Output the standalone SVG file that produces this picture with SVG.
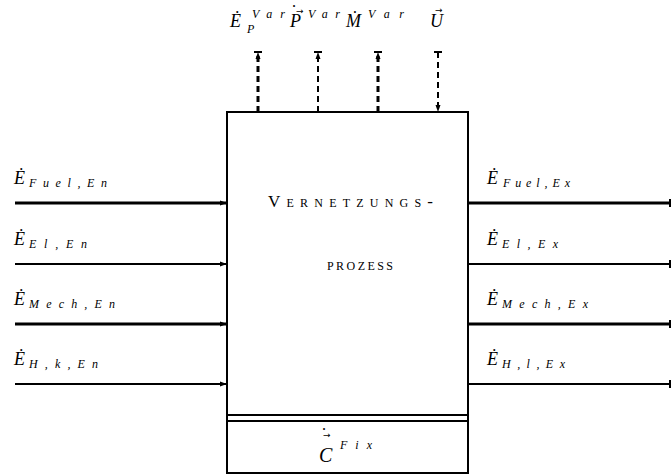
<svg xmlns="http://www.w3.org/2000/svg" width="671" height="475" viewBox="0 0 671 475">
<style>
.m{font-family:"Liberation Serif","DejaVu Serif",serif;font-style:italic;fill:#000}
.b{font-size:18px}
.s{font-size:12px}
.sc{font-family:"Liberation Serif","DejaVu Serif",serif;font-variant:small-caps;font-size:17px;fill:#000}
.ac{font-family:"DejaVu Sans","Liberation Sans",sans-serif;fill:#000}
.dt{font-family:"Liberation Serif","DejaVu Serif",serif;font-size:18px;fill:#000}
.thk{stroke:#000;stroke-width:3;fill:none}
.thn{stroke:#000;stroke-width:2;fill:none}
.dash{stroke-dasharray:6,4}
</style>
<defs>
<marker id="ah" markerWidth="8" markerHeight="6" refX="7" refY="3" orient="auto" markerUnits="userSpaceOnUse"><path d="M0,0.5 L7,3 L0,5.5 Z" fill="#000"/></marker>
<marker id="bar" markerWidth="2" markerHeight="8" refX="1" refY="4" orient="auto" markerUnits="userSpaceOnUse"><rect x="0" y="0" width="2" height="8" fill="#000"/></marker>
</defs>
<g id="prozess">
<rect x="227" y="112" width="241" height="361" fill="none" stroke="#000" stroke-width="2"/>
<line x1="227" y1="415" x2="468" y2="415" stroke="#000" stroke-width="2"/>
<line x1="227" y1="421" x2="468" y2="421" stroke="#000" stroke-width="2"/>
<text class="sc" x="268" y="207" textLength="165" lengthAdjust="spacing">Vernetzungs-</text>
<text class="sc" x="327" y="270" textLength="66" lengthAdjust="spacing">prozess</text>
<text class="m" style="font-size:20px" x="319" y="462">C</text>
<text class="ac" style="font-size:9px" x="323" y="438">→</text>
<text class="dt" x="321" y="441">˙</text>
<text class="m s" x="340" y="449" textLength="32" lengthAdjust="spacing">Fix</text>
</g>
<g id="connectors">
<line class="thk" x1="15" y1="203" x2="227" y2="203" marker-end="url(#ah)"/>
<line class="thn" x1="15" y1="264" x2="227" y2="264" marker-end="url(#ah)"/>
<line class="thk" x1="15" y1="324" x2="227" y2="324" marker-end="url(#ah)"/>
<line class="thn" x1="15" y1="384" x2="227" y2="384" marker-end="url(#ah)"/>
<line class="thk" x1="468" y1="203" x2="670" y2="203" marker-end="url(#bar)"/>
<line class="thn" x1="468" y1="264" x2="670" y2="264" marker-end="url(#bar)"/>
<line class="thk" x1="468" y1="324" x2="670" y2="324" marker-end="url(#bar)"/>
<line class="thn" x1="468" y1="384" x2="670" y2="384" marker-end="url(#bar)"/>
<line class="thk dash" x1="258" y1="112" x2="258" y2="52" marker-end="url(#ah)"/>
<line class="thn dash" x1="318" y1="112" x2="318" y2="52" marker-end="url(#ah)"/>
<line class="thk dash" x1="378" y1="112" x2="378" y2="52" marker-end="url(#ah)"/>
<line class="thn dash" x1="438" y1="52" x2="438" y2="112" marker-end="url(#ah)"/>
<line x1="254" y1="52" x2="262" y2="52" stroke="#000" stroke-width="2"/>
<line x1="314" y1="52" x2="322" y2="52" stroke="#000" stroke-width="2"/>
<line x1="374" y1="52" x2="382" y2="52" stroke="#000" stroke-width="2"/>
<line x1="434" y1="52" x2="442" y2="52" stroke="#000" stroke-width="2"/>
</g>
<g id="labels-in">
<text class="m b" x="14" y="184">Ė</text><text class="m s" x="29" y="187" textLength="78" lengthAdjust="spacing">Fuel,En</text>
<text class="m b" x="14" y="245">Ė</text><text class="m s" x="29" y="248" textLength="58" lengthAdjust="spacing">El,En</text>
<text class="m b" x="14" y="305">Ė</text><text class="m s" x="29" y="308" textLength="86" lengthAdjust="spacing">Mech,En</text>
<text class="m b" x="14" y="365">Ė</text><text class="m s" x="29" y="368" textLength="69" lengthAdjust="spacing">H,k,En</text>
</g>
<g id="labels-out">
<text class="m b" x="487" y="184">Ė</text><text class="m s" x="503" y="187" textLength="67" lengthAdjust="spacing">Fuel,Ex</text>
<text class="m b" x="487" y="245">Ė</text><text class="m s" x="502" y="248" textLength="56" lengthAdjust="spacing">El,Ex</text>
<text class="m b" x="487" y="305">Ė</text><text class="m s" x="502" y="308" textLength="86" lengthAdjust="spacing">Mech,Ex</text>
<text class="m b" x="487" y="365">Ė</text><text class="m s" x="502" y="368" textLength="63" lengthAdjust="spacing">H,l,Ex</text>
</g>
<g id="labels-top">
<text class="m b" x="230" y="27">Ė</text><text class="m s" x="247" y="33">P</text><text class="m s" x="252" y="18" textLength="33" lengthAdjust="spacing">Var</text>
<text class="m b" x="290" y="27">P</text><text class="ac" style="font-size:9px" x="296" y="14">→</text><text class="dt" x="291" y="18">˙</text><text class="m s" x="308" y="18" textLength="32" lengthAdjust="spacing">Var</text>
<text class="m b" x="346" y="27">Ṁ</text><text class="m s" x="368" y="18" textLength="36" lengthAdjust="spacing">Var</text>
<text class="m b" x="430" y="27">U</text><text class="ac" style="font-size:9px" x="435" y="13">→</text>
</g>
</svg>
